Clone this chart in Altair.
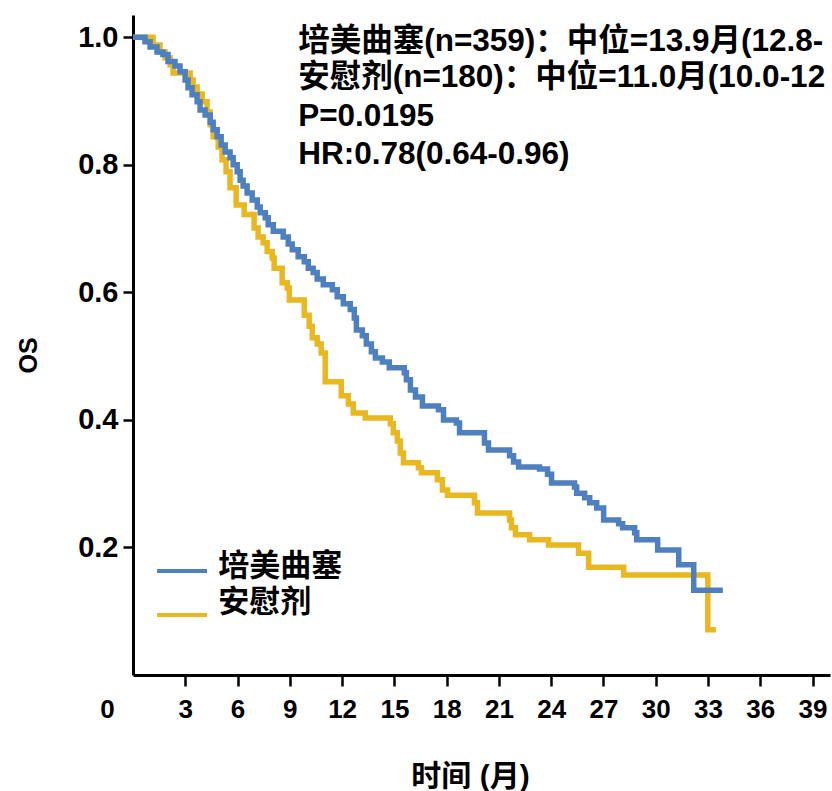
import altair as alt
import pandas as pd

# Kaplan-Meier overall survival, step points (month, survival probability)
pem_months = [0.00, 0.69, 0.98, 1.38, 1.72, 2.01, 2.41, 2.70, 2.99, 3.16, 3.39, 3.68,
              3.85, 4.14, 4.43, 4.60, 4.83, 5.06, 5.29, 5.57, 5.75, 5.98, 6.15, 6.32,
              6.55, 6.84, 7.13, 7.30, 7.59, 7.76, 8.05, 8.62, 8.91, 9.14, 9.48, 9.83,
              10.06, 10.34, 10.57, 10.92, 11.44, 11.72, 12.07, 12.47, 12.70, 12.82,
              13.16, 13.39, 13.68, 13.91, 14.31, 14.71, 15.57, 15.69, 15.92, 16.21,
              16.61, 17.53, 17.82, 18.56, 18.74, 20.17, 20.40, 21.61, 21.84, 22.13,
              23.33, 23.79, 24.02, 25.34, 25.46, 25.92, 26.21, 26.61, 27.01, 27.87,
              28.10, 28.79, 28.91, 30.11, 31.32, 32.18, 33.85]
pem_surv = [1.000, 0.993, 0.985, 0.977, 0.973, 0.962, 0.955, 0.946, 0.933, 0.921, 0.910, 0.899,
            0.886, 0.878, 0.867, 0.855, 0.844, 0.831, 0.820, 0.811, 0.800, 0.789, 0.776, 0.767,
            0.756, 0.745, 0.734, 0.725, 0.717, 0.706, 0.696, 0.687, 0.676, 0.667, 0.656, 0.648,
            0.638, 0.631, 0.621, 0.612, 0.604, 0.593, 0.582, 0.573, 0.560, 0.541,
            0.532, 0.519, 0.507, 0.497, 0.491, 0.482, 0.474, 0.463, 0.447, 0.436,
            0.422, 0.416, 0.400, 0.395, 0.380, 0.364, 0.353, 0.344, 0.334, 0.326,
            0.323, 0.315, 0.301, 0.295, 0.285, 0.278, 0.270, 0.262, 0.243, 0.237,
            0.231, 0.223, 0.212, 0.196, 0.173, 0.133, 0.133]

pla_months = [0.00, 1.15, 1.55, 1.84, 2.13, 2.30, 3.28, 3.45, 3.68, 3.97, 4.25, 4.43,
              4.60, 4.89, 5.11, 5.34, 5.57, 5.92, 6.38, 6.95, 7.18, 7.47, 7.70, 7.99,
              8.10, 8.56, 8.85, 8.97, 9.83, 10.11, 10.29, 10.57, 10.80, 11.03, 11.95,
              12.36, 12.64, 13.33, 14.77, 14.94, 15.17, 15.34, 15.52, 16.38, 16.55,
              17.47, 17.76, 18.05, 19.60, 19.77, 21.61, 21.72, 21.95, 22.76, 23.85,
              25.57, 26.15, 28.16, 32.99, 33.45]
pla_surv = [1.000, 0.988, 0.977, 0.968, 0.957, 0.944, 0.933, 0.922, 0.911, 0.899, 0.883, 0.863,
            0.844, 0.828, 0.808, 0.789, 0.764, 0.737, 0.722, 0.701, 0.687, 0.678, 0.664, 0.654,
            0.638, 0.615, 0.607, 0.588, 0.564, 0.547, 0.529, 0.519, 0.505, 0.460, 0.438,
            0.425, 0.411, 0.403, 0.394, 0.380, 0.367, 0.348, 0.333, 0.325, 0.317,
            0.306, 0.290, 0.282, 0.270, 0.254, 0.243, 0.231, 0.220, 0.212, 0.204,
            0.191, 0.169, 0.157, 0.071, 0.071]

groups = ["培美曲塞", "安慰剂"]
colors = ["#4e80bf", "#e9b71f"]

# Legend placement (data units)
legend_x1 = [1.38, 1.38]
legend_x2 = [4.25, 4.25]
legend_line_y = [0.163, 0.094]
legend_text_x = [4.89, 4.89]
legend_text_y = [0.169, 0.113]

# Statistics block
ann_lines = [
    "培美曲塞(n=359)：中位=13.9月(12.8-",
    "安慰剂(n=180)：中位=11.0月(10.0-12",
    "P=0.0195",
    "HR:0.78(0.64-0.96)",
]
ann_x = [9.48, 9.48, 9.48, 9.48]
ann_y = [0.993, 0.936, 0.875, 0.816]

x_ticks = list(range(0, 40, 3))
y_ticks = [0.2, 0.4, 0.6, 0.8, 1.0]

FONT = "Liberation Sans, Noto Sans CJK SC"

pem = pd.DataFrame({"month": pem_months, "surv": pem_surv, "group": groups[0]})
pla = pd.DataFrame({"month": pla_months, "surv": pla_surv, "group": groups[1]})
leg = pd.DataFrame({"group": groups, "x1": legend_x1, "x2": legend_x2, "y": legend_line_y,
                    "tx": legend_text_x, "ty": legend_text_y})
ann = pd.DataFrame({"text": ann_lines, "x": ann_x, "y": ann_y})

color_scale = alt.Scale(domain=groups, range=colors)

x_enc = alt.X(
    "month:Q",
    scale=alt.Scale(domain=[0, 40], nice=False, zero=True),
    axis=alt.Axis(
        values=x_ticks, title="时间 (月)", labelFontSize=26, titleFontSize=30,
        tickColor={"expr": "datum.value == 0 ? 'transparent' : 'black'"},
        labelOffset={"expr": "datum.value == 0 ? -26 : 0"},
        labelFlush=False, labelOverlap=False, labelPadding=10,
        tickSize=11, titleX=337, titleY=101, titleBaseline="middle", titleAlign="center",
    ),
)
y_enc = alt.Y(
    "surv:Q",
    scale=alt.Scale(domain=[0, 1.035], nice=False, zero=True),
    axis=alt.Axis(
        values=y_ticks, format=".1f", title="OS", labelFontSize=29, titleFontSize=25,
        tickSize=10, labelPadding=5, titleAngle=270, titleX=-105, titleY=340,
        titleBaseline="middle", titleAlign="center",
    ),
)

placebo_line = alt.Chart(pla).mark_line(interpolate="step-after", strokeWidth=5.5).encode(
    x=x_enc, y=y_enc,
    color=alt.Color("group:N", scale=color_scale, legend=None),
)
pem_line = alt.Chart(pem).mark_line(interpolate="step-after", strokeWidth=5.5).encode(
    x="month:Q", y="surv:Q",
    color=alt.Color("group:N", scale=color_scale, legend=None),
)

legend_rules = alt.Chart(leg).mark_rule(strokeWidth=4).encode(
    x="x1:Q", x2="x2:Q", y="y:Q",
    color=alt.Color("group:N", scale=color_scale, legend=None),
)
legend_text = alt.Chart(leg).mark_text(
    align="left", baseline="middle", font=FONT, fontSize=31, fontWeight="bold", color="black"
).encode(x="tx:Q", y="ty:Q", text="group:N")

stats_text = alt.Chart(ann).mark_text(
    align="left", baseline="middle", font=FONT, fontSize=31.5, fontWeight="bold", color="black"
).encode(x="x:Q", y="y:Q", text="text:N")

chart = (
    alt.layer(placebo_line, pem_line, legend_rules, legend_text, stats_text)
    .properties(
        width=697, height=660,
        autosize=alt.AutoSizeParams(type="none"),
        padding={"left": 133, "top": 15, "right": 2, "bottom": 116},
        background="white",
    )
    .configure_view(stroke=None)
    .configure_axis(
        domainColor="black", domainWidth=3, tickWidth=2.5, tickColor="black",
        labelColor="black", titleColor="black", grid=False,
        labelFont=FONT, titleFont=FONT, labelFontWeight="bold", titleFontWeight="bold",
    )
)

chart.save("out.html", embed_options={"renderer": "svg", "actions": False})
